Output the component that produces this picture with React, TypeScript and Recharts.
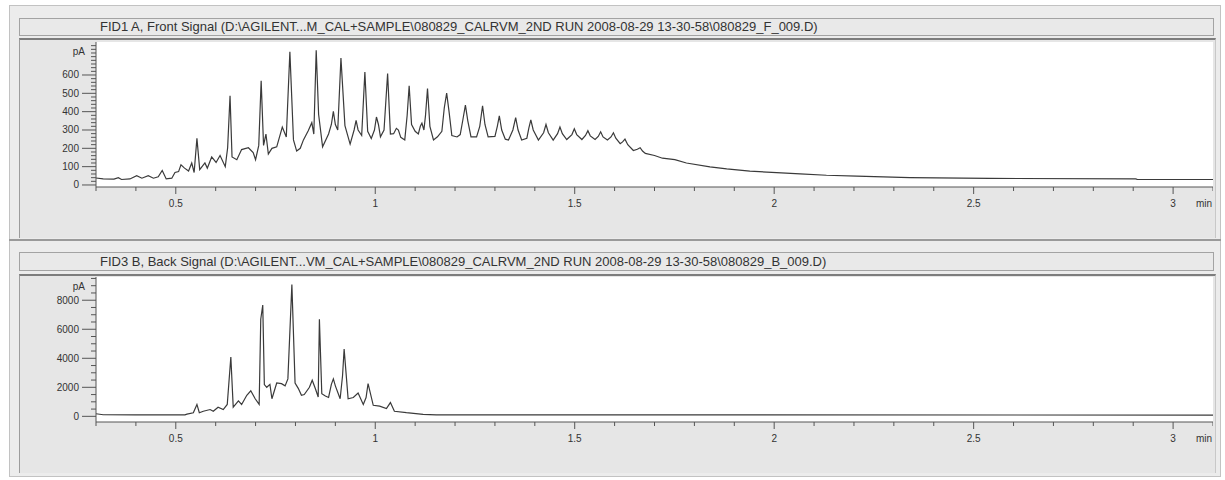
import { LineChart, Line, XAxis, YAxis, CartesianGrid } from "recharts";

// FID1 A, front signal (time in min, signal in pA)
const frontTime = [
  0.3, 0.318, 0.345, 0.356, 0.364, 0.385, 0.402, 0.415, 0.431, 0.444, 0.456, 0.466, 0.476, 0.49, 0.498,
  0.507, 0.513, 0.522, 0.532, 0.54, 0.546, 0.553, 0.56, 0.573, 0.579, 0.59, 0.601, 0.611, 0.624, 0.63,
  0.636, 0.641, 0.653, 0.665, 0.682, 0.694, 0.7, 0.708, 0.714, 0.72, 0.726, 0.732, 0.741, 0.753, 0.767,
  0.777, 0.786, 0.795, 0.803, 0.812, 0.82, 0.832, 0.841, 0.846, 0.852, 0.858, 0.868, 0.883, 0.89, 0.895,
  0.9, 0.906, 0.914, 0.924, 0.937, 0.947, 0.952, 0.957, 0.966, 0.974, 0.981, 0.99, 0.998, 1.003, 1.008,
  1.013, 1.022, 1.031, 1.038, 1.046, 1.053, 1.058, 1.064, 1.074, 1.08, 1.085, 1.091, 1.1, 1.108, 1.113,
  1.117, 1.122, 1.126, 1.131, 1.137, 1.146, 1.156, 1.167, 1.173, 1.179, 1.185, 1.192, 1.205, 1.213, 1.22,
  1.226, 1.232, 1.24, 1.254, 1.262, 1.269, 1.275, 1.283, 1.3, 1.306, 1.311, 1.317, 1.326, 1.334, 1.345,
  1.352, 1.358, 1.367, 1.38, 1.385, 1.39, 1.396, 1.409, 1.422, 1.428, 1.434, 1.446, 1.457, 1.463, 1.469,
  1.48, 1.493, 1.499, 1.505, 1.518, 1.527, 1.533, 1.539, 1.551, 1.559, 1.565, 1.571, 1.582, 1.591, 1.597,
  1.603, 1.614, 1.62, 1.626, 1.633, 1.647, 1.657, 1.664, 1.67, 1.677, 1.7, 1.72, 1.751, 1.78, 1.839,
  1.881, 1.939, 2.006, 2.065, 2.131, 2.207, 2.34, 2.54, 2.906, 2.91, 3.1,
];
const frontPA = [
  38, 33, 32, 40, 30, 33, 51, 37, 51, 37, 45, 79, 33, 37, 68,
  73, 110, 92, 76, 120, 68, 254, 84, 120, 92, 153, 123, 161, 100, 203,
  487, 153, 138, 193, 203, 177, 138, 216, 569, 216, 278, 169, 200, 208, 316,
  262, 727, 246, 185, 200, 246, 296, 340, 278, 735, 386, 208, 278, 330, 402,
  330, 300, 693, 324, 223, 300, 352, 300, 270, 616, 293, 254, 300, 371, 330,
  263, 300, 608, 278, 280, 309, 300, 260, 246, 380, 541, 330, 293, 278, 320,
  337, 300, 380, 526, 320, 246, 263, 293, 420, 501, 400, 270, 262, 275, 360,
  436, 350, 262, 262, 320, 432, 330, 262, 265, 320, 377, 300, 250, 245, 300,
  368, 300, 245, 255, 310, 355, 300, 245, 285, 330, 285, 245, 280, 316, 280,
  248, 275, 306, 275, 248, 270, 296, 268, 248, 265, 290, 262, 245, 262, 285,
  255, 225, 235, 250, 220, 188, 195, 203, 185, 172, 161, 146, 138, 120, 99,
  88, 76, 67, 61, 53, 48, 40, 36, 33, 31, 30,
];

// FID3 B, back signal
const backTime = [
  0.3, 0.318, 0.4, 0.523, 0.528, 0.544, 0.553, 0.559, 0.569, 0.586, 0.594, 0.606, 0.619, 0.629, 0.638,
  0.644, 0.657, 0.665, 0.678, 0.688, 0.699, 0.709, 0.713, 0.718, 0.722, 0.728, 0.736, 0.741, 0.753, 0.765,
  0.774, 0.781, 0.791, 0.799, 0.807, 0.815, 0.822, 0.835, 0.842, 0.85, 0.857, 0.86, 0.866, 0.875, 0.883,
  0.89, 0.895, 0.9, 0.912, 0.918, 0.922, 0.932, 0.945, 0.957, 0.97, 0.977, 0.982, 0.995, 1.011, 1.028,
  1.038, 1.048, 1.078, 1.12, 1.153, 3.1,
];
const backPA = [
  180, 110, 100, 100, 150, 250, 820, 250, 350, 470, 350, 630, 470, 820, 4090,
  630, 1060, 820, 1450, 1760, 1210, 820, 6690, 7670, 2190, 2000, 2200, 1210, 2300, 2250,
  2100, 2580, 9090, 2300, 1930, 1450, 1500, 2000, 2490, 1900, 1330, 6690, 1560, 1400, 1300,
  2200, 2580, 2100, 1210, 2800, 4630, 1210, 1300, 1600, 820, 1300, 2260, 760, 700, 530,
  950, 350, 250, 140, 100, 90,
];

const xMajor = [0.5, 1, 1.5, 2, 2.5, 3];
const frontYMajor = [0, 100, 200, 300, 400, 500, 600];
const backYMajor = [0, 2000, 4000, 6000, 8000];

const frontTitle =
  "FID1 A, Front Signal (D:\\AGILENT...M_CAL+SAMPLE\\080829_CALRVM_2ND RUN 2008-08-29 13-30-58\\080829_F_009.D)";
const backTitle =
  "FID3 B, Back Signal (D:\\AGILENT...VM_CAL+SAMPLE\\080829_CALRVM_2ND RUN 2008-08-29 13-30-58\\080829_B_009.D)";

const FONT = "'Liberation Sans', Arial, sans-serif";
const AXIS = "#555";
const TEXT = "#333";

const frontData = frontTime.map((t, i) => ({ t, pA: frontPA[i] }));
const backData = backTime.map((t, i) => ({ t, pA: backPA[i] }));

// minor ticks every 0.1 min
const xTicks: number[] = [];
for (let i = 3; i <= 31; i++) xTicks.push(i / 10);

const minorTicks = (step: number, max: number) => {
  const out: number[] = [];
  for (let v = 0; v <= max; v += step) out.push(v);
  return out;
};

const XTick = (props: any) => {
  const { x, y, payload } = props;
  const v = payload.value;
  const major = xMajor.some((m) => Math.abs(m - v) < 1e-6);
  return (
    <g>
      <line x1={x} x2={x} y1={y} y2={y + (major ? 7 : 4)} stroke={AXIS} />
      {major && (
        <text x={x} y={y + 20} textAnchor="middle" fontSize={10} fill={TEXT} fontFamily={FONT}>
          {String(v)}
        </text>
      )}
    </g>
  );
};

const makeYTick = (labels: number[]) => (props: any) => {
  const { x, y, payload } = props;
  const major = labels.includes(payload.value);
  return (
    <g>
      <line x1={x - (major ? 14 : 5)} x2={x} y1={y} y2={y} stroke={AXIS} />
      {major && (
        <text x={x - 17} y={y + 3.5} textAnchor="end" fontSize={10} fill={TEXT} fontFamily={FONT}>
          {payload.value}
        </text>
      )}
    </g>
  );
};

const unitLabel = (props: any) => {
  const vb = props.viewBox;
  return (
    <text x={vb.x + vb.width - 11} y={vb.y + 13} textAnchor="end" fontSize={10} fill={TEXT} fontFamily={FONT}>
      pA
    </text>
  );
};

const minLabel = (props: any) => {
  const vb = props.viewBox;
  return (
    <text x={vb.x + vb.width - 1} y={vb.y + 19.5} textAnchor="end" fontSize={10} fill={TEXT} fontFamily={FONT}>
      min
    </text>
  );
};

function Trace({ data, domain, yTicks, yLabels, top }: any) {
  return (
    <div style={{ position: "absolute", left: 20, top }}>
      <LineChart width={1193} height={197} data={data} margin={{ top: 2, right: 0, bottom: 25, left: 0 }}>
        <CartesianGrid horizontal={false} vertical={false} fill="#ffffff" fillOpacity={1} />
        <XAxis
          dataKey="t"
          type="number"
          domain={[0.3, 3.1]}
          ticks={xTicks}
          interval={0}
          tick={XTick}
          tickLine={false}
          tickSize={0}
          tickMargin={0}
          height={25}
          stroke={AXIS}
          allowDataOverflow
          label={minLabel}
        />
        <YAxis
          type="number"
          domain={domain}
          ticks={yTicks}
          interval={0}
          tick={makeYTick(yLabels)}
          tickLine={false}
          tickSize={0}
          tickMargin={0}
          width={76}
          stroke={AXIS}
          allowDataOverflow
          label={unitLabel}
        />
        <Line type="linear" dataKey="pA" stroke="#3a3a3a" strokeWidth={1.2} dot={false} isAnimationActive={false} />
      </LineChart>
    </div>
  );
}

const titleStyle = (top: number, height: number): any => ({
  position: "absolute",
  left: 19,
  top,
  width: 1195,
  height,
  boxSizing: "border-box",
  background: "#e9e9e9",
  border: "1px solid #a3a3a3",
  fontSize: 13,
  lineHeight: `${height - 2}px`,
  color: TEXT,
  paddingLeft: 80,
  whiteSpace: "nowrap",
});

const boxStyle = (top: number, height: number): any => ({
  position: "absolute",
  left: 19,
  top,
  width: 1197,
  height,
  boxSizing: "border-box",
  background: "#e6e6e6",
  borderTop: "2px solid #7d7d7d",
  borderLeft: "1px solid #9c9c9c",
  borderRight: "1px solid #c8c8c8",
});

export default function App() {
  return (
    <div
      style={{
        position: "absolute",
        left: 0,
        top: 0,
        width: 1225,
        height: 480,
        background: "#fff",
        fontFamily: FONT,
      }}
    >
      <div
        style={{
          position: "absolute",
          left: 9,
          top: 5,
          width: 1212,
          height: 472,
          boxSizing: "border-box",
          background: "#ececec",
          border: "1px solid #c2c2c2",
        }}
      />
      <div style={{ position: "absolute", left: 9, top: 239, width: 1212, height: 2, background: "#9a9a9a" }} />

      <div style={titleStyle(18, 18)}>{frontTitle}</div>
      <div style={boxStyle(38, 200)} />
      <Trace data={frontData} domain={[-11, 780]} yTicks={minorTicks(20, 760)} yLabels={frontYMajor} top={40} />

      <div style={titleStyle(252, 19)}>{backTitle}</div>
      <div style={boxStyle(274, 199)} />
      <Trace data={backData} domain={[-390, 9600]} yTicks={minorTicks(500, 9500)} yLabels={backYMajor} top={275} />
    </div>
  );
}
